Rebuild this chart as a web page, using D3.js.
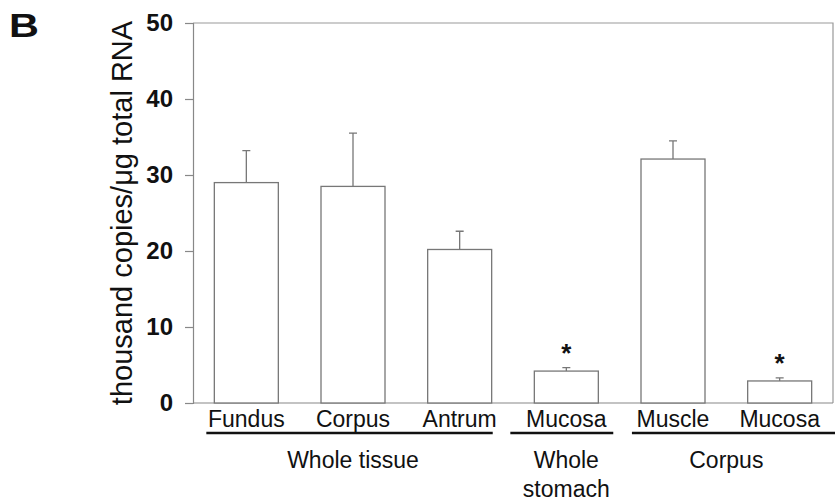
<!DOCTYPE html>
<html>
<head>
<meta charset="utf-8">
<script src="https://cdn.jsdelivr.net/npm/d3@7"></script>
<style>
  body { margin: 0; background: #fff; }
  text { font-family: "Liberation Sans", Arial, sans-serif; fill: #111; }
</style>
</head>
<body>
<div id="chart"></div>
<script>
// values
var categories = ["Fundus", "Corpus", "Antrum", "Mucosa", "Muscle", "Mucosa2"];
var labels = ["Fundus", "Corpus", "Antrum", "Mucosa", "Muscle", "Mucosa"];
var means = [29.0, 28.5, 20.2, 4.2, 32.1, 2.9];
var errors = [4.2, 7.0, 2.4, 0.45, 2.4, 0.4];
var significant = [false, false, false, true, false, true];
var groupNames = [["Whole tissue"], ["Whole", "stomach"], ["Corpus"]];
var groupFrom = [0, 3, 4];
var groupTo = [2, 3, 5];
var yTicks = [0, 10, 20, 30, 40, 50];

// underline overhang of each group, in band steps (left, right)
var linePad = [[0.375, 0.31], [0.525, 0.44], [0.385, 1]];

var width = 835, height = 501;
var margin = {top: 23, right: 2, bottom: 98, left: 193};

var svg = d3.select("#chart")
    .append("svg")
    .attr("width", width)
    .attr("height", height);

var x = d3.scaleBand()
    .domain(categories)
    .range([margin.left, width - margin.right])
    .paddingInner(0.4)
    .paddingOuter(0.2);

var y = d3.scaleLinear()
    .domain([0, 50])
    .range([height - margin.bottom, margin.top]);

// frame (top and right)
svg.append("path")
    .attr("d", "M" + margin.left + "," + y(50) + "H" + (width - margin.right) + "V" + y(0))
    .attr("fill", "none")
    .attr("stroke", "#999")
    .attr("stroke-width", 1.2);

// Y axis
var yAxis = svg.append("g")
    .attr("transform", "translate(" + margin.left + ",0)")
    .call(d3.axisLeft(y).tickValues(yTicks).tickSize(8).tickPadding(12));
yAxis.select(".domain").attr("stroke", "#888").attr("stroke-width", 1.2);
yAxis.selectAll(".tick line").attr("stroke", "#888").attr("stroke-width", 1.2);
yAxis.selectAll("text")
    .style("font-size", "24px")
    .style("font-weight", "bold")
    .style("font-family", "'Liberation Sans', Arial, sans-serif")
    .attr("fill", "#111");

// baseline
svg.append("line")
    .attr("x1", margin.left).attr("x2", width - margin.right)
    .attr("y1", y(0)).attr("y2", y(0))
    .attr("stroke", "#888").attr("stroke-width", 1.2);

// Y label
svg.append("text")
    .attr("transform", "translate(132," + ((y(0) + y(50)) / 2) + ") rotate(-90)")
    .attr("text-anchor", "middle")
    .style("font-size", "29px")
    .text("thousand copies/\u03bcg total RNA");

// panel letter
svg.append("text")
    .attr("transform", "translate(9,37) scale(1.22,1)")
    .style("font-size", "34px")
    .style("font-weight", "bold")
    .text("B");

// error bars
svg.selectAll(".err")
    .data(categories)
    .enter()
    .append("path")
    .attr("class", "err")
    .attr("d", function(d, i) {
        var cx = x(d) + x.bandwidth() / 2;
        return "M" + cx + "," + y(means[i]) + "V" + y(means[i] + errors[i]) +
            "M" + (cx - 4) + "," + y(means[i] + errors[i]) + "H" + (cx + 4);
    })
    .attr("fill", "none")
    .attr("stroke", "#777")
    .attr("stroke-width", 1.3);

// bars
svg.selectAll(".bar")
    .data(categories)
    .enter()
    .append("rect")
    .attr("class", "bar")
    .attr("x", function(d) { return x(d); })
    .attr("y", function(d, i) { return y(means[i]); })
    .attr("width", x.bandwidth())
    .attr("height", function(d, i) { return y(0) - y(means[i]); })
    .attr("fill", "#fff")
    .attr("stroke", "#777")
    .attr("stroke-width", 1.3);

// asterisks
svg.selectAll(".star")
    .data(categories.filter(function(d, i) { return significant[i]; }))
    .enter()
    .append("text")
    .attr("class", "star")
    .attr("x", function(d) { return x(d) + x.bandwidth() / 2; })
    .attr("y", function(d) { var i = categories.indexOf(d); return y(means[i] + errors[i]) - 6; })
    .attr("text-anchor", "middle")
    .style("font-size", "26px")
    .style("font-weight", "bold")
    .text("*");

// category labels
svg.selectAll(".cat")
    .data(categories)
    .enter()
    .append("text")
    .attr("class", "cat")
    .attr("x", function(d) { return x(d) + x.bandwidth() / 2; })
    .attr("y", y(0) + 24)
    .attr("text-anchor", "middle")
    .style("font-size", "23px")
    .text(function(d, i) { return labels[i]; });

// group underlines and names
var step = x.step();
groupNames.forEach(function(name, gi) {
    var c1 = x(categories[groupFrom[gi]]) + x.bandwidth() / 2;
    var c2 = x(categories[groupTo[gi]]) + x.bandwidth() / 2;
    var x1 = c1 - step * linePad[gi][0];
    var x2 = Math.min(width, c2 + step * linePad[gi][1]);
    svg.append("line")
        .attr("x1", x1).attr("x2", x2)
        .attr("y1", y(0) + 30).attr("y2", y(0) + 30)
        .attr("stroke", "#111").attr("stroke-width", 2.5);
    var cx = (c1 + c2) / 2;
    name.forEach(function(line, li) {
        svg.append("text")
            .attr("x", cx)
            .attr("y", y(0) + 65 + li * 29)
            .attr("text-anchor", "middle")
            .style("font-size", "23px")
            .text(line);
    });
});
</script>
</body>
</html>
